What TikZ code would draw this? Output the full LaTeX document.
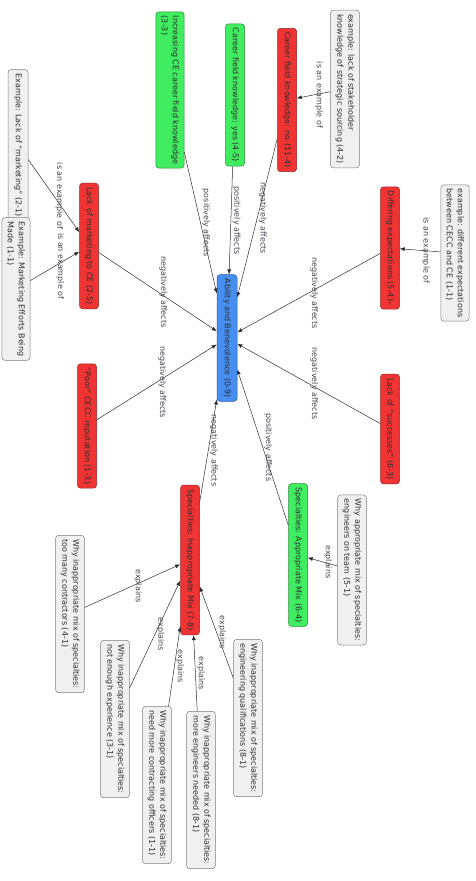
\documentclass[tikz,border=0pt]{standalone}
\usepackage{fontspec}
\setmainfont{DejaVu Sans}
\usetikzlibrary{arrows.meta}
\definecolor{redfill}{RGB}{240,52,52}
\definecolor{redline}{RGB}{150,35,35}
\definecolor{greenfill}{RGB}{64,236,96}
\definecolor{greenline}{RGB}{40,140,55}
\definecolor{bluefill}{RGB}{70,142,240}
\definecolor{blueline}{RGB}{40,85,165}
\definecolor{greyfill}{RGB}{240,240,240}
\definecolor{greyline}{RGB}{125,125,125}
\definecolor{inkgrey}{RGB}{45,45,45}
\definecolor{lblgrey}{RGB}{70,70,80}
\newcommand{\rel}[3]{\draw[->,inkgrey] (#1) -- node[lbl]{#3} (#2)}

\begin{document}
\begin{tikzpicture}[x=1pt,y=-1pt,>={Latex[length=5pt,width=4pt]},line width=0.5pt,
	box/.style={rotate=-90,rounded corners=3pt,draw,inner xsep=4pt,inner ysep=5pt,
		align=left,font=\fontsize{8}{11}\selectfont,text=inkgrey},
	redbox/.style={box,fill=redfill,draw=redline,minimum height=19pt},
	greenbox/.style={box,fill=greenfill,draw=greenline,minimum height=19pt},
	bluebox/.style={box,fill=bluefill,draw=blueline,minimum height=20pt},
	greybox/.style={box,fill=greyfill,draw=greyline,minimum height=20pt},
	lbl/.style={midway,anchor=south,rotate=-90,inner sep=1.5pt,
		font=\fontsize{8}{10}\selectfont,text=lblgrey}]
	\useasboundingbox (0,0) rectangle (475,881);
		% centre
		\node[bluebox] (ability) at (227,338) {Ability and Benevolence (0-9)};
		% left side
		\node[greenbox] (careeryes) at (235,95) {Career field knowledge: yes (4-5)};
		\node[greenbox] (incce) at (170,90) {Increasing CE career field knowledge\\(3-3)};
		\node[greybox] (exlackmkt) at (18,145) {Example: Lack of “marketing” (2-1)};
		\node[redbox] (lackmkt) at (89,246) {Lack of marketing to CE (2-5)};
		\node[greybox] (exefforts) at (16,289) {Example: Marketing Efforts Being\\Made (1-1)};
		\node[redbox] (poor) at (87,426) {“Poor” CECC reputation (1-3)};
		% right side
		\node[redbox] (careerno) at (287,100) {Career field knowledge: no (11-4)};
		\node[greybox] (exstake) at (345,89) {example: lack of stakeholder\\knowledge of strategic sourcing (4-2)};
		\node[redbox] (differing) at (390,248) {Differing expectations (5-4)--};
		\node[greybox] (exdiff) at (455,253) {example: different expectations\\between CECC and CE (1-1)};
		\node[redbox] (lacksucc) at (390,429) {Lack of “successes” (6-3)};
		% specialties
		\node[redbox] (inappr) at (190,560) {Specialties: Inappropriate Mix (7-8)};
		\node[greenbox] (appr) at (298,555) {Specialties: Appropriate Mix (6-4)};
		\node[greybox] (whyteam) at (352,570) {Why appropriate mix of specialties:\\engineers on team (5-1)};
		\node[greybox] (whyqualif) at (248,718) {Why inappropriate mix of specialties:\\engineering qualifications (8-1)};
		\node[greybox] (whycontr) at (70,614) {Why inappropriate mix of specialties:\\too many contractors (4-1)};
		\node[greybox] (whyexper) at (115,719) {Why inappropriate mix of specialties:\\not enough experience (3-1)};
		\node[greybox] (whyofficers) at (157,785) {Why inappropriate mix of specialties:\\need more contracting officers (1-1)};
		\node[greybox] (whyengneeded) at (201,790) {Why inappropriate mix of specialties:\\more engineers needed (8-1)};
			\rel{exstake}{careerno}{is an example of};
			\rel{careerno}{ability}{negatively affects};
			\rel{careeryes}{ability}{positively affects};
			\rel{incce}{ability}{positively affects};
			\rel{exlackmkt}{lackmkt}{is an example of};
			\rel{exefforts}{lackmkt}{is an example of};
			\rel{lackmkt}{ability}{negatively affects};
			\rel{poor}{ability}{negatively affects};
			\rel{exdiff}{differing}{is an example of};
			\rel{differing}{ability}{negatively affects};
			\rel{lacksucc}{ability}{negatively affects};
			\rel{inappr}{ability}{negatively affects};
			\rel{appr}{ability}{positively affects};
			\rel{whyteam}{appr}{explains};
			\rel{whycontr}{inappr}{explains};
			\rel{whyexper}{inappr}{explains};
			\rel{whyofficers}{inappr}{explains};
			\rel{whyengneeded}{inappr}{explains};
			\rel{whyqualif}{inappr}{explains};
\end{tikzpicture}
\end{document}
